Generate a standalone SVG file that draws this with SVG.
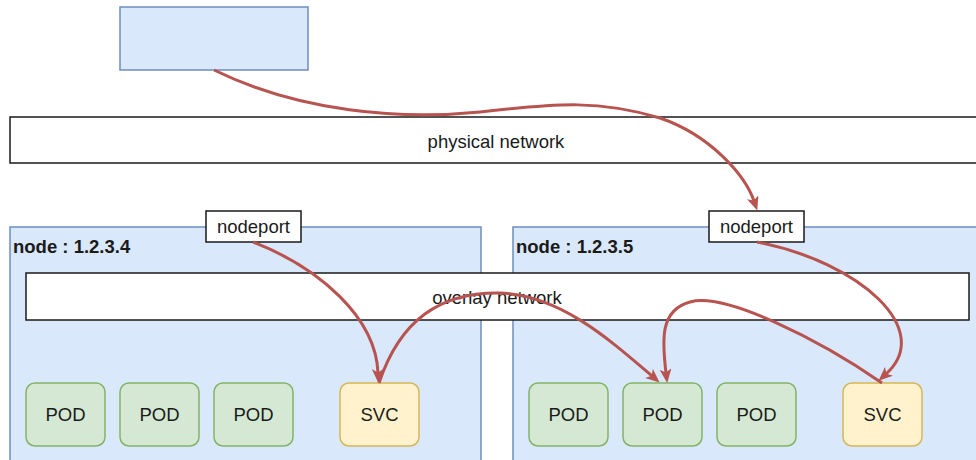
<svg xmlns="http://www.w3.org/2000/svg" width="976" height="460" viewBox="0 0 976 460">
<defs>
<style>
.t{font-family:"Liberation Sans",Arial,sans-serif;font-size:18.5px;fill:#1a1a1a;text-anchor:middle}
.b{font-weight:bold;text-anchor:start}
.blue{fill:#dae8fc;stroke:#6c8ebf;stroke-width:1.5}
.plain{fill:#fff;stroke:#1a1a1a;stroke-width:1.5}
.pod{fill:#d5e8d4;stroke:#82b366;stroke-width:1.5}
.svc{fill:#fff2cc;stroke:#d6b656;stroke-width:1.5}
.c{fill:none;stroke:#b85450;stroke-width:3;marker-end:url(#ah)}
</style>
<marker id="ah" viewBox="0 0 14 12" markerWidth="14" markerHeight="12" markerUnits="userSpaceOnUse" refX="4" refY="6" orient="auto">
<path d="M0,0 L14,6 L0,12 L3.5,6 Z" fill="#b85450"/>
</marker>
</defs>
<rect width="976" height="460" fill="#fff"/>
<g id="client"><rect class="blue" x="120" y="7" width="188" height="63"/></g>
<g id="physical-network"><rect class="plain" x="10" y="117" width="970" height="46"/><text class="t" x="496" y="148">physical network</text></g>
<g id="node1"><rect class="blue" x="10" y="227" width="471" height="240"/><text class="t b" x="13" y="253">node : 1.2.3.4</text></g>
<g id="node2"><rect class="blue" x="513" y="227" width="470" height="240"/><text class="t b" x="516" y="253">node : 1.2.3.5</text></g>
<g id="overlay-network"><rect class="plain" x="26" y="273" width="943" height="47"/><text class="t" x="497" y="304">overlay network</text></g>
<g id="nodeport1"><rect class="plain" x="206" y="211" width="95" height="31"/><text class="t" x="253.500" y="233">nodeport</text></g>
<g id="nodeport2"><rect class="plain" x="709" y="211" width="95" height="31"/><text class="t" x="756.500" y="233">nodeport</text></g>
<g id="pod1a"><rect class="pod" x="26" y="383" width="79" height="63" rx="9"/><text class="t" x="65.500" y="421">POD</text></g>
<g id="pod1b"><rect class="pod" x="120" y="383" width="79" height="63" rx="9"/><text class="t" x="159.500" y="421">POD</text></g>
<g id="pod1c"><rect class="pod" x="214" y="383" width="79" height="63" rx="9"/><text class="t" x="253.500" y="421">POD</text></g>
<g id="svc1"><rect class="svc" x="340" y="383" width="79" height="63" rx="9"/><text class="t" x="379.500" y="421">SVC</text></g>
<g id="pod2a"><rect class="pod" x="529" y="383" width="79" height="63" rx="9"/><text class="t" x="568.500" y="421">POD</text></g>
<g id="pod2b"><rect class="pod" x="623" y="383" width="79" height="63" rx="9"/><text class="t" x="662.500" y="421">POD</text></g>
<g id="pod2c"><rect class="pod" x="717" y="383" width="79" height="63" rx="9"/><text class="t" x="756.500" y="421">POD</text></g>
<g id="svc2"><rect class="svc" x="843" y="383" width="79" height="63" rx="9"/><text class="t" x="882.500" y="421">SVC</text></g>
<g id="connectors">
<path class="c" d="M214,70 C300,112 400,120 480,112 C560,103 600,100 660,118 C710,135 745,175 754,201"/>
<path class="c" d="M253,242 C320,268 376,318 378,373"/>
<path class="c" d="M379,383 C400,320 440,292 500,293 C560,295 610,340 652,376"/>
<path class="c" d="M757,242 C860,262 935,330 886,374"/>
<path class="c" d="M882,383 C820,340 725,292 690,302 C660,310 662,340 666,373"/>
</g>
</svg>
